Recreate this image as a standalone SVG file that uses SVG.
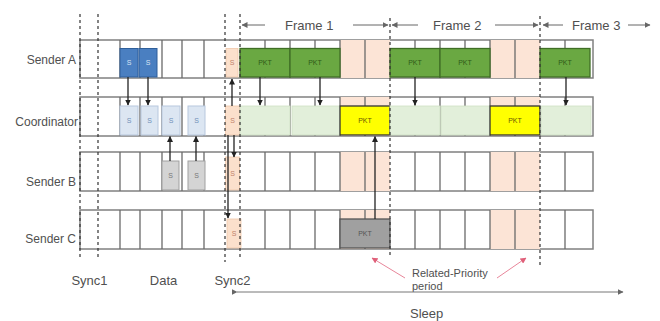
<svg xmlns="http://www.w3.org/2000/svg" width="660" height="321" viewBox="0 0 660 321">
<defs>
<marker id="ah" markerWidth="6" markerHeight="6" refX="5.5" refY="3" orient="auto" markerUnits="userSpaceOnUse"><path d="M0,0 L6,3 L0,6 z" fill="#222"/></marker>
<marker id="ag" markerWidth="6" markerHeight="6" refX="5.5" refY="3" orient="auto" markerUnits="userSpaceOnUse"><path d="M0,0 L6,3 L0,6 z" fill="#666"/></marker>
<marker id="ap" markerWidth="6" markerHeight="6" refX="5.5" refY="3" orient="auto" markerUnits="userSpaceOnUse"><path d="M0,0 L6,3 L0,6 z" fill="#e0607a"/></marker>
</defs>
<style>
.row{fill:#fff;stroke:#808080;stroke-width:1.5}
.div{stroke:#6a6a6a;stroke-width:1.3}
.or{fill:#fce4d6}
.lbl{font-family:"Liberation Sans",Arial,sans-serif;font-size:12px;fill:#505050}
.big{font-family:"Liberation Sans",Arial,sans-serif;font-size:13px;fill:#505050}
.sm{font-family:"Liberation Sans",Arial,sans-serif;font-size:11px;fill:#505050}
.bt{font-family:"Liberation Sans",Arial,sans-serif;font-size:7px;text-anchor:middle}
.blue{fill:#4a7fc1;stroke:#2f5f9a;stroke-width:1}
.lblue{fill:#dce6f2;stroke:#b8c8de;stroke-width:1}
.grey{fill:#d4d4d4;stroke:#a0a0a0;stroke-width:1}
.sync{fill:#fbe0cc;stroke:#f0c8aa;stroke-width:0.8}
.green{fill:#6aa842;stroke:#3f6e25;stroke-width:1.3}
.lgreen{fill:#e2efda;stroke:#cfe0c4;stroke-width:0.8}
.yel{fill:#ffff00;stroke:#333;stroke-width:1.3}
.gpkt{fill:#a0a0a0;stroke:#555;stroke-width:1.3}
.dash{stroke:#333;stroke-width:1.2;stroke-dasharray:3,3;fill:none}
.conn{stroke:#222;stroke-width:1.3;fill:none;marker-end:url(#ah)}
.fr{stroke:#666;stroke-width:1;fill:none;marker-end:url(#ag)}
.pink{stroke:#e8869a;stroke-width:1;fill:none;marker-end:url(#ap)}
</style>

<g id="sender-a">
<rect class="row" x="80" y="40" width="513" height="38"/>
<rect class="or" x="340" y="40" width="50" height="38"/>
<rect class="or" x="490" y="40" width="50" height="38"/>
<path class="div" d="M120,40V78M140,40V78M162,40V78M182,40V78M204,40V78M265,40V78M290,40V78M315,40V78M340,40V78M365,40V78M415,40V78M440,40V78M465,40V78M490,40V78M515,40V78M565,40V78"/>
<rect class="blue" x="120" y="48.5" width="18" height="28.5"/><text class="bt" x="129" y="65" fill="#dbe6f5">S</text>
<rect class="blue" x="139" y="48.5" width="18" height="28.5"/><text class="bt" x="148" y="65" fill="#dbe6f5">S</text>
<rect class="sync" x="226" y="48.5" width="12" height="28.5"/><text class="bt" x="232" y="65" fill="#c0806a">S</text>
<rect class="green" x="240" y="48.5" width="50" height="28.5"/><text class="bt" x="265" y="65" fill="#2f5a18">PKT</text>
<rect class="green" x="290" y="48.5" width="50" height="28.5"/><text class="bt" x="315" y="65" fill="#2f5a18">PKT</text>
<rect class="green" x="390" y="48.5" width="50" height="28.5"/><text class="bt" x="415" y="65" fill="#2f5a18">PKT</text>
<rect class="green" x="440" y="48.5" width="50" height="28.5"/><text class="bt" x="465" y="65" fill="#2f5a18">PKT</text>
<rect class="green" x="540" y="48.5" width="50" height="28.5"/><text class="bt" x="565" y="65" fill="#2f5a18">PKT</text>
<text class="lbl" x="76" y="64" text-anchor="end">Sender A</text>
</g>

<g id="coordinator">
<rect class="row" x="80" y="97" width="513" height="39"/>
<rect class="or" x="340" y="97" width="50" height="39"/>
<rect class="or" x="490" y="97" width="50" height="39"/>
<path class="div" d="M120,97V136M140,97V136M162,97V136M182,97V136M204,97V136M265,97V136M290,97V136M315,97V136M340,97V136M365,97V136M415,97V136M440,97V136M465,97V136M490,97V136M515,97V136M565,97V136"/>
<rect class="lblue" x="120" y="106" width="18" height="29"/><text class="bt" x="129" y="123" fill="#7090b8">S</text>
<rect class="lblue" x="141" y="106" width="17" height="29"/><text class="bt" x="149.5" y="123" fill="#7090b8">S</text>
<rect class="lblue" x="162" y="106" width="18" height="29"/><text class="bt" x="171" y="123" fill="#7090b8">S</text>
<rect class="lblue" x="188" y="106" width="17" height="29"/><text class="bt" x="196.5" y="123" fill="#7090b8">S</text>
<rect class="sync" x="225.5" y="106" width="14" height="29"/><text class="bt" x="232.5" y="123" fill="#c0806a">S</text>
<rect class="lgreen" x="240" y="106" width="50" height="29"/>
<rect class="lgreen" x="292" y="106" width="48" height="29"/>
<rect class="yel" x="340" y="106" width="50" height="29"/><text class="bt" x="365" y="123" fill="#6b5a00">PKT</text>
<rect class="lgreen" x="390" y="106" width="50" height="29"/>
<rect class="lgreen" x="441" y="106" width="49" height="29"/>
<rect class="yel" x="490" y="106" width="50" height="29"/><text class="bt" x="515" y="123" fill="#6b5a00">PKT</text>
<rect class="lgreen" x="541" y="106" width="50" height="29"/>
<text class="lbl" x="78" y="126" text-anchor="end">Coordinator</text>
</g>

<g id="sender-b">
<rect class="row" x="80" y="152" width="513" height="39"/>
<rect class="or" x="340" y="152" width="50" height="39"/>
<rect class="or" x="490" y="152" width="50" height="39"/>
<path class="div" d="M120,152V191M140,152V191M162,152V191M182,152V191M204,152V191M265,152V191M290,152V191M315,152V191M340,152V191M365,152V191M415,152V191M440,152V191M465,152V191M490,152V191M515,152V191M565,152V191"/>
<rect class="grey" x="162" y="161" width="17" height="29"/><text class="bt" x="170.5" y="178" fill="#777">S</text>
<rect class="grey" x="188" y="161" width="17" height="29"/><text class="bt" x="196.5" y="178" fill="#777">S</text>
<rect class="sync" x="225.5" y="157" width="14" height="33"/><text class="bt" x="232.5" y="176" fill="#c0806a">S</text>
<text class="lbl" x="76" y="186" text-anchor="end">Sender B</text>
</g>

<g id="sender-c">
<rect class="row" x="80" y="210" width="513" height="39"/>
<rect class="or" x="340" y="210" width="50" height="39"/>
<rect class="or" x="490" y="210" width="50" height="39"/>
<path class="div" d="M120,210V249M140,210V249M162,210V249M182,210V249M204,210V249M265,210V249M290,210V249M315,210V249M340,210V249M365,210V249M415,210V249M440,210V249M465,210V249M490,210V249M515,210V249M565,210V249"/>
<rect class="sync" x="227" y="219" width="14" height="29"/><text class="bt" x="234" y="236" fill="#c0806a">S</text>
<rect class="gpkt" x="340" y="219" width="50" height="29"/><text class="bt" x="365" y="236" fill="#555">PKT</text>
<text class="lbl" x="76" y="243" text-anchor="end">Sender C</text>
</g>

<g id="guides">
<path class="dash" d="M80,14V258M98,14V258M225,14V262M240,14V258M390,18V258M540,16V268"/>
</g>

<g id="frames">
<line class="fr" x1="265" y1="25" x2="242" y2="25"/>
<text class="big" x="285" y="29.5">Frame 1</text>
<line class="fr" x1="353" y1="25" x2="388" y2="25"/>
<line class="fr" x1="418" y1="25" x2="392" y2="25"/>
<text class="big" x="433" y="29.5">Frame 2</text>
<line class="fr" x1="495" y1="25" x2="538" y2="25"/>
<line class="fr" x1="563" y1="25" x2="543" y2="25"/>
<text class="big" x="572" y="29.5">Frame 3</text>
<line class="fr" x1="628" y1="25" x2="650" y2="25"/>
</g>

<g id="connectors">
<line class="conn" x1="128" y1="77" x2="128" y2="105"/>
<line class="conn" x1="148" y1="77" x2="148" y2="105"/>
<line class="conn" x1="170" y1="161" x2="170" y2="136.5"/>
<line class="conn" x1="196" y1="161" x2="196" y2="136.5"/>
<line class="conn" x1="232" y1="106" x2="232" y2="79"/>
<line class="conn" x1="234" y1="135" x2="234" y2="157"/>
<line class="conn" x1="228" y1="135" x2="228" y2="218"/>
<line class="conn" x1="260" y1="77" x2="260" y2="105"/>
<line class="conn" x1="320" y1="77" x2="320" y2="105"/>
<line class="conn" x1="415" y1="77" x2="415" y2="105"/>
<line class="conn" x1="566" y1="77" x2="566" y2="105"/>
<line class="conn" x1="375" y1="219" x2="375" y2="136.5"/>
</g>

<g id="annotations">
<line class="pink" x1="405" y1="278" x2="372" y2="258"/>
<line class="pink" x1="497" y1="278" x2="526" y2="258"/>
<text class="sm" x="412" y="277">Related-Priority</text>
<text class="sm" x="412" y="290">period</text>
<line x1="237" y1="292" x2="623" y2="292" stroke="#777" stroke-width="1" marker-start="url(#ag)" marker-end="url(#ag)"/>
<text class="big" x="410" y="318">Sleep</text>
<text class="big" x="89.5" y="285" text-anchor="middle">Sync1</text>
<text class="big" x="163.5" y="285" text-anchor="middle">Data</text>
<text class="big" x="232.5" y="285" text-anchor="middle">Sync2</text>
</g>
</svg>
